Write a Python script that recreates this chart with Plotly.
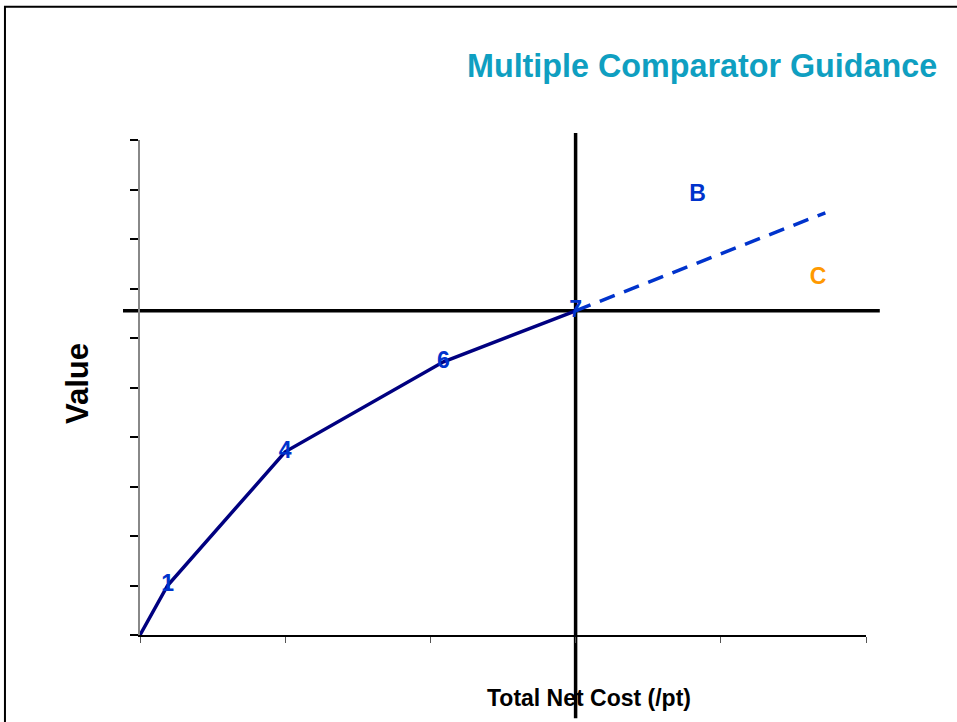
import plotly.graph_objects as go

# Data
cost = [0.0, 0.19, 1.0, 2.09, 3.0]
value = [0.0, 1.0, 3.7, 5.52, 6.55]
point_labels = ["", "1", "4", "6", "7"]

ext_cost = [3.0, 4.72]
ext_value = [6.55, 8.53]

zone_names = ["B", "C"]
zone_cost = [3.84, 4.67]
zone_value = [8.89, 7.21]
zone_colors = ["#0033cc", "#ff9900"]

FONT = "Arial, Liberation Sans, sans-serif"
BLUE = "#0033cc"

fig = go.Figure()

# dashed extension beyond the comparator point
fig.add_trace(go.Scatter(
    x=ext_cost, y=ext_value, mode="lines",
    line=dict(color=BLUE, width=3.5, dash="16px,10px"),
    hoverinfo="skip", cliponaxis=False))

# main curve with numbered points
fig.add_trace(go.Scatter(
    x=cost, y=value, mode="lines+text", text=point_labels,
    textposition="middle center",
    textfont=dict(family=FONT, size=23, color=BLUE, weight="bold"),
    line=dict(color="#000080", width=3.5),
    cliponaxis=False))

# zone labels
for name, xx, yy, col in zip(zone_names, zone_cost, zone_value, zone_colors):
    fig.add_trace(go.Scatter(
        x=[xx], y=[yy], mode="text", text=[name],
        textfont=dict(family=FONT, size=23, color=col, weight="bold"),
        cliponaxis=False))

# crosshair through point 7 (drawn under the curve)
fig.add_shape(type="line", xref="x", yref="paper", layer="below",
              x0=cost[-1], x1=cost[-1], y0=-0.168, y1=1.014,
              line=dict(color="black", width=3.5))
fig.add_shape(type="line", xref="paper", yref="y", layer="below",
              x0=-0.0234, x1=1.019, y0=value[-1], y1=value[-1],
              line=dict(color="black", width=3.5))

# outer frame
fig.add_shape(type="rect", xref="paper", yref="paper",
              x0=-0.186, x1=1.3, y0=-0.3, y1=1.269,
              line=dict(color="black", width=2), layer="below")

fig.add_annotation(text="Multiple Comparator Guidance", xref="paper", yref="paper",
                   x=1.101, y=1.149, xanchor="right", yanchor="middle", showarrow=False,
                   font=dict(family=FONT, size=32.3, color="#0f9fc1", weight="bold"))
fig.add_annotation(text="Value", xref="paper", yref="paper", textangle=-90,
                   x=-0.0868, y=0.509, xanchor="center", yanchor="middle", showarrow=False,
                   font=dict(family=FONT, size=31, color="black", weight="bold"))
fig.add_annotation(text="Total Net Cost (/pt)", xref="paper", yref="paper",
                   x=0.618, y=-0.127, xanchor="center", yanchor="middle", showarrow=False,
                   font=dict(family=FONT, size=23, color="black", weight="bold"))

fig.update_xaxes(range=[0, 5], dtick=1, tick0=0, showticklabels=False, showgrid=False,
                 zeroline=False, showline=True, linecolor="black", linewidth=2,
                 ticks="outside", ticklen=6, tickcolor="#555555", tickwidth=1)
fig.update_yaxes(range=[0, 10], dtick=1, tick0=0, showticklabels=False, showgrid=False,
                 zeroline=False, showline=True, linecolor="#888888", linewidth=2,
                 ticks="outside", ticklen=8, tickcolor="black", tickwidth=1.5)

fig.update_layout(
    width=957, height=722,
    margin=dict(l=140, r=91, t=140, b=87),
    paper_bgcolor="white", plot_bgcolor="white",
    showlegend=False,
)

fig.write_html("out.html", config={"displayModeBar": False},
               post_script="document.body.style.margin='0';document.body.style.overflow='hidden';")
